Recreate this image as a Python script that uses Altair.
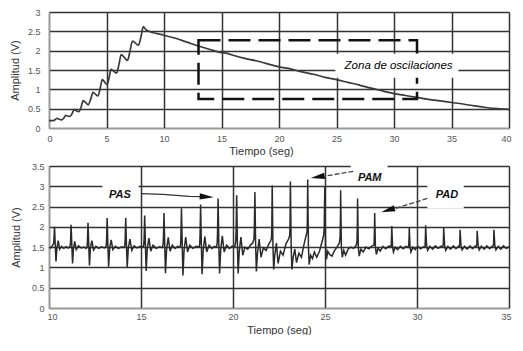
import altair as alt
import pandas as pd

# ---------------- top chart data ----------------
top_t = [0, 0.4, 0.55, 0.69, 0.85, 1.11, 1.3, 1.46, 1.6, 1.83, 2.02, 2.2, 2.35, 2.6,
         2.8, 2.97, 3.12, 3.4, 3.62, 3.83, 3.98, 4.26, 4.45, 4.63, 4.78, 5.06,
         5.24, 5.4, 5.55, 5.88, 6.08, 6.28, 6.45, 6.83, 7.05, 7.26, 7.42, 7.77,
         8.0, 8.2, 8.4, 8.7, 9.0, 10.0, 11.0, 12.0, 13.0, 14.0, 15.0,
         15.5, 16.0, 17.0, 18.0, 19.0, 19.5, 20.0, 21.0, 22.0, 23.0, 24.0, 25.0,
         26.0, 27.0, 28.0, 29.0, 30.0, 31.0, 32.0, 33.0, 34.0, 35.0, 36.0, 37.0,
         38.0, 39.0, 40.0]
top_v = [0.19, 0.19, 0.22, 0.25, 0.23, 0.21, 0.26, 0.33, 0.31, 0.30, 0.38, 0.48, 0.45, 0.42,
         0.55, 0.71, 0.68, 0.60, 0.74, 0.92, 0.89, 0.83, 1.02, 1.25, 1.21, 1.12,
         1.32, 1.52, 1.49, 1.42, 1.64, 1.90, 1.86, 1.75, 2.00, 2.25, 2.22, 2.14,
         2.36, 2.62, 2.55, 2.50, 2.47, 2.40, 2.32, 2.22, 2.12, 2.03, 1.95,
         1.93, 1.88, 1.80, 1.74, 1.66, 1.62, 1.58, 1.53, 1.45, 1.39, 1.31, 1.25,
         1.18, 1.11, 1.03, 0.96, 0.89, 0.84, 0.79, 0.74, 0.70, 0.66, 0.62, 0.57,
         0.53, 0.50, 0.48]

zone_t = [13.0, 32.0]
zone_v = [0.75, 2.27]
zone_label = "Zona de oscilaciones"
zone_label_pos = [30.4, 1.6]
zone_mask_t = [24.9, 35.6]
zone_mask_v = [1.3, 1.92]

# ---------------- bottom chart data ----------------
sig_rows_t = [
    [10.00, 10.08, 10.18, 10.26, 10.30, 10.34, 10.38, 10.43, 10.50, 10.58, 10.68, 10.80, 10.93, 11.05],
    [11.14, 11.17, 11.20, 11.24, 11.28, 11.33, 11.40, 11.48, 11.60, 11.75, 11.90, 12.02],
    [12.07, 12.09, 12.12, 12.16, 12.20, 12.25, 12.33, 12.42, 12.55, 12.70, 12.85, 13.02],
    [13.11, 13.13, 13.16, 13.20, 13.24, 13.30, 13.38, 13.47, 13.60, 13.78, 13.95, 14.06],
    [14.12, 14.14, 14.17, 14.21, 14.25, 14.31, 14.40, 14.50, 14.62, 14.78, 14.95, 15.10],
    [15.15, 15.17, 15.20, 15.24, 15.28, 15.34, 15.43, 15.53, 15.65, 15.82, 16.00, 16.15],
    [16.20, 16.22, 16.25, 16.29, 16.33, 16.39, 16.48, 16.58, 16.70, 16.85, 17.00, 17.12],
    [17.15, 17.17, 17.20, 17.24, 17.28, 17.34, 17.43, 17.53, 17.65, 17.82, 18.00, 18.16],
    [18.19, 18.21, 18.24, 18.28, 18.32, 18.38, 18.47, 18.57, 18.70, 18.85, 19.00, 19.10],
    [19.14, 19.16, 19.19, 19.23, 19.27, 19.33, 19.42, 19.52, 19.65, 19.80, 19.95, 20.10],
    [20.15, 20.17, 20.20, 20.24, 20.28, 20.34, 20.43, 20.53, 20.65, 20.80, 20.95, 21.07],
    [21.14, 21.16, 21.19, 21.23, 21.27, 21.33, 21.42, 21.52, 21.65, 21.80, 21.95, 22.05],
    [22.09, 22.11, 22.13, 22.17, 22.21, 22.27, 22.36, 22.45, 22.58, 22.72, 22.88, 23.02],
    [23.08, 23.10, 23.12, 23.16, 23.20, 23.27, 23.36, 23.45, 23.58, 23.72, 23.85, 23.98],
    [24.02, 24.04, 24.06, 24.10, 24.14, 24.22, 24.32, 24.42, 24.55, 24.70, 24.85, 24.93],
    [24.96, 24.97, 24.99, 25.03, 25.08, 25.15, 25.25, 25.38, 25.50, 25.65, 25.78],
    [25.82, 25.84, 25.85, 25.89, 25.94, 26.02, 26.12, 26.25, 26.40, 26.55, 26.70],
    [26.74, 26.76, 26.77, 26.81, 26.86, 26.95, 27.08, 27.22, 27.38, 27.52, 27.66],
    [27.67, 27.69, 27.70, 27.74, 27.79, 27.88, 28.00, 28.15, 28.30, 28.45, 28.58],
    [28.60, 28.62, 28.63, 28.67, 28.72, 28.82, 28.95, 29.10, 29.25, 29.40, 29.52],
    [29.55, 29.57, 29.58, 29.62, 29.67, 29.78, 29.90, 30.05, 30.20, 30.35, 30.43],
    [30.44, 30.46, 30.47, 30.52, 30.58, 30.70, 30.85, 31.00, 31.15, 31.30, 31.40],
    [31.43, 31.44, 31.45, 31.50, 31.56, 31.68, 31.82, 31.98, 32.12, 32.25, 32.30],
    [32.32, 32.33, 32.34, 32.39, 32.45, 32.58, 32.72, 32.88, 33.02, 33.15, 33.22],
    [33.25, 33.26, 33.27, 33.32, 33.38, 33.50, 33.65, 33.80, 33.95, 34.08, 34.13],
    [34.16, 34.17, 34.18, 34.23, 34.29, 34.42, 34.55, 34.70, 34.85, 35.00],
]
sig_rows_v = [
    [1.50, 1.48, 1.53, 1.60, 2.00, 1.55, 1.15, 1.48, 1.66, 1.45, 1.52, 1.47, 1.51, 1.48],
    [1.52, 1.62, 2.05, 1.55, 1.10, 1.47, 1.64, 1.44, 1.53, 1.48, 1.50, 1.47],
    [1.52, 1.65, 2.10, 1.55, 1.05, 1.48, 1.66, 1.43, 1.52, 1.47, 1.51, 1.48],
    [1.53, 1.68, 2.22, 1.55, 1.02, 1.48, 1.68, 1.44, 1.52, 1.47, 1.51, 1.49],
    [1.53, 1.70, 2.22, 1.55, 1.00, 1.48, 1.70, 1.42, 1.53, 1.48, 1.52, 1.50],
    [1.55, 1.72, 2.28, 1.55, 0.91, 1.45, 1.72, 1.40, 1.55, 1.47, 1.51, 1.49],
    [1.55, 1.74, 2.34, 1.55, 0.86, 1.44, 1.74, 1.40, 1.55, 1.47, 1.52, 1.50],
    [1.56, 1.76, 2.46, 1.55, 0.80, 1.42, 1.75, 1.38, 1.55, 1.47, 1.52, 1.50],
    [1.58, 1.80, 2.55, 1.55, 0.83, 1.42, 1.76, 1.38, 1.55, 1.47, 1.52, 1.50],
    [1.60, 1.85, 2.70, 1.55, 0.85, 1.42, 1.78, 1.38, 1.55, 1.47, 1.52, 1.52],
    [1.65, 1.90, 2.78, 1.55, 0.85, 1.40, 1.75, 1.30, 1.50, 1.45, 1.55, 1.60],
    [1.70, 1.95, 2.86, 1.55, 0.90, 1.35, 1.70, 1.25, 1.48, 1.42, 1.58, 1.65],
    [1.72, 2.00, 3.02, 1.55, 0.95, 1.30, 1.60, 1.10, 1.40, 1.30, 1.58, 1.70],
    [1.78, 2.05, 3.12, 1.55, 0.95, 1.25, 1.45, 1.12, 1.35, 1.25, 1.55, 1.80],
    [1.85, 2.10, 3.17, 1.50, 1.07, 1.30, 1.22, 1.38, 1.25, 1.40, 1.65, 1.80],
    [2.00, 2.40, 2.98, 1.55, 1.20, 1.40, 1.32, 1.28, 1.40, 1.50, 1.60],
    [1.75, 2.20, 2.90, 1.50, 1.25, 1.42, 1.30, 1.45, 1.50, 1.47, 1.55],
    [1.65, 2.10, 2.70, 1.50, 1.28, 1.45, 1.38, 1.50, 1.46, 1.52, 1.55],
    [1.62, 1.95, 2.34, 1.50, 1.32, 1.48, 1.40, 1.52, 1.46, 1.52, 1.52],
    [1.58, 1.80, 2.02, 1.52, 1.38, 1.50, 1.44, 1.52, 1.46, 1.52, 1.50],
    [1.55, 1.75, 1.98, 1.52, 1.38, 1.50, 1.44, 1.52, 1.46, 1.51, 1.50],
    [1.55, 1.80, 2.04, 1.55, 1.42, 1.52, 1.45, 1.53, 1.47, 1.52, 1.52],
    [1.58, 1.75, 1.98, 1.55, 1.42, 1.52, 1.45, 1.53, 1.46, 1.52, 1.52],
    [1.58, 1.72, 1.93, 1.55, 1.43, 1.52, 1.45, 1.53, 1.46, 1.52, 1.52],
    [1.58, 1.70, 1.90, 1.55, 1.43, 1.52, 1.45, 1.53, 1.46, 1.52, 1.52],
    [1.58, 1.72, 1.93, 1.55, 1.43, 1.52, 1.45, 1.53, 1.47, 1.51],
]

ann_labels = ["PAS", "PAM", "PAD"]
ann_t = [13.85, 27.43, 31.63]
ann_v = [2.79, 3.21, 2.78]
mask_t1 = [12.9, 26.4, 30.56]
mask_t2 = [14.87, 28.4, 32.54]
mask_v1 = [2.6, 3.05, 2.45]
mask_v2 = [3.1, 3.56, 3.05]

pas_line_t = [15.03, 16.19, 17.62, 18.3]
pas_line_v = [2.82, 2.80, 2.75, 2.745]
pam_line_t = [26.54, 25.0]
pam_line_v = [3.37, 3.25]
pad_line_t = [30.56, 28.8]
pad_line_v = [2.70, 2.45]
head_t = [18.57, 24.6, 28.42]
head_v = [2.74, 3.23, 2.41]
head_angle = [3, 171, 163]

FONT = "Liberation Sans"

# ---------------- build tables ----------------
top_df = pd.DataFrame({"t": top_t, "v": top_v, "i": range(len(top_t))})
zone_df = pd.DataFrame({"t": [zone_t[0]], "t2": [zone_t[1]], "v": [zone_v[0]], "v2": [zone_v[1]]})
zmask_df = pd.DataFrame({"t": [zone_mask_t[0]], "t2": [zone_mask_t[1]],
                         "v": [zone_mask_v[0]], "v2": [zone_mask_v[1]]})
ztext_df = pd.DataFrame({"t": [zone_label_pos[0]], "v": [zone_label_pos[1]], "label": [zone_label]})

sig_t = [x for row in sig_rows_t for x in row]
sig_v = [x for row in sig_rows_v for x in row]
sig_df = pd.DataFrame({"t": sig_t, "v": sig_v, "i": list(range(len(sig_t)))})
ann_df = pd.DataFrame({"label": ann_labels, "t": ann_t, "v": ann_v})
mask_df = pd.DataFrame({"t": mask_t1, "t2": mask_t2, "v": mask_v1, "v2": mask_v2})
pas_df = pd.DataFrame({"t": pas_line_t, "v": pas_line_v, "i": range(len(pas_line_t))})
dash_df = pd.DataFrame({
    "t": pam_line_t + pad_line_t,
    "v": pam_line_v + pad_line_v,
    "g": ["PAM", "PAM", "PAD", "PAD"],
    "i": [0, 1, 0, 1],
})
head_df = pd.DataFrame({"t": head_t, "v": head_v, "a": head_angle})

# ---------------- shared scales / axes ----------------
top_xs = alt.Scale(domain=[0, 40], nice=False, zero=False)
top_ys = alt.Scale(domain=[0, 3], nice=False, zero=False)
top_xa = alt.Axis(values=list(range(0, 41, 5)), title="Tiempo (seg)", titleX=212,
                  labelPadding=6, titlePadding=2, labelFlush=True, labelFlushOffset=2)
top_ya = alt.Axis(values=[0, 0.5, 1, 1.5, 2, 2.5, 3], format="~g",
                  title="Amplitud (V)", labelPadding=9, titlePadding=7)

bot_xs = alt.Scale(domain=[10, 35], nice=False, zero=False)
bot_ys = alt.Scale(domain=[0, 3.5], nice=False, zero=False)
bot_xa = alt.Axis(values=list(range(10, 36, 5)), title="Tiempo (seg)",
                  labelPadding=4, titlePadding=3, labelFlush=True, labelFlushOffset=2)
bot_ya = alt.Axis(values=[0, 0.5, 1, 1.5, 2, 2.5, 3, 3.5], format="~g",
                  title="Amplitud (V)", labelPadding=5, titlePadding=10)


def tx(): return alt.X("t:Q", scale=top_xs, axis=top_xa)
def ty(): return alt.Y("v:Q", scale=top_ys, axis=top_ya)
def bx(): return alt.X("t:Q", scale=bot_xs, axis=bot_xa)
def by(): return alt.Y("v:Q", scale=bot_ys, axis=bot_ya)


# ---------------- top chart ----------------
top_line = alt.Chart(top_df).mark_line(color="#3a3a3a", strokeWidth=1.7,
                                       interpolate="monotone").encode(
    x=tx(), y=ty(), order="i:Q")
zone_rect = alt.Chart(zone_df).mark_rect(filled=False, stroke="#111", strokeWidth=2.5,
                                        strokeDash=[22, 8]).encode(
    x=tx(), x2="t2:Q", y=ty(), y2="v2:Q")
zone_mask = alt.Chart(zmask_df).mark_rect(fill="white").encode(
    x=tx(), x2="t2:Q", y=ty(), y2="v2:Q")
zone_text = alt.Chart(ztext_df).mark_text(font=FONT, fontSize=11.5, fontStyle="italic",
                                          color="#000").encode(
    x=tx(), y=ty(), text="label:N")
top = alt.layer(top_line, zone_rect, zone_mask, zone_text).properties(width=460, height=116)

# ---------------- bottom chart ----------------
sig_line = alt.Chart(sig_df).mark_line(color="#2a2a2a", strokeWidth=1.5).encode(
    x=bx(), y=by(), order="i:Q")
masks = alt.Chart(mask_df).mark_rect(fill="white").encode(
    x=bx(), x2="t2:Q", y=by(), y2="v2:Q")
labels = alt.Chart(ann_df).mark_text(font=FONT, fontSize=11, fontStyle="italic",
                                     fontWeight="bold", color="#111").encode(
    x=bx(), y=by(), text="label:N")
pas_arrow = alt.Chart(pas_df).mark_line(color="#333", strokeWidth=1.3).encode(
    x=bx(), y=by(), order="i:Q")
dash_arrows = alt.Chart(dash_df).mark_line(color="#444", strokeWidth=1.3,
                                           strokeDash=[5, 2]).encode(
    x=bx(), y=by(), detail="g:N", order="i:Q")
heads = alt.Chart(head_df).mark_point(shape="M 1 0 L -1 -0.45 L -1 0.45 Z", filled=True,
                                      color="#111", opacity=1, size=196).encode(
    x=bx(), y=by(), angle=alt.Angle("a:Q", scale=None))
bottom = alt.layer(masks, sig_line, pas_arrow, dash_arrows, heads, labels).properties(
    width=460, height=142)

chart = alt.vconcat(top, bottom, spacing=6).properties(
    padding={"left": 1, "top": 0, "right": 0, "bottom": 0}
).configure_axis(
    labelFont=FONT, labelFontSize=9, labelColor="#555",
    titleFont=FONT, titleFontSize=11, titleFontWeight="normal", titleColor="#333",
    grid=True, gridColor="#333", gridWidth=1.5, gridOpacity=1,
    ticks=False, domainColor="#999", domainWidth=1,
).configure_view(stroke=None)

chart.save("out.html", embed_options={"renderer": "svg", "actions": False})
